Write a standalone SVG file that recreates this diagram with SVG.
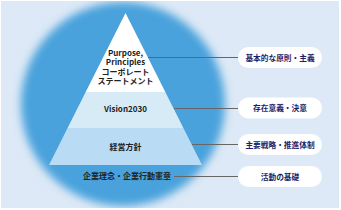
<svg xmlns="http://www.w3.org/2000/svg" width="341" height="210" viewBox="0 0 341 210">
<defs>
<filter id="blur" x="-20%" y="-20%" width="140%" height="140%"><feGaussianBlur stdDeviation="4"/></filter>
<clipPath id="bg"><rect x="1" y="1" width="338" height="207"/></clipPath>
</defs>
<style>
.t{font-family:"Noto Sans CJK JP","Noto Sans",sans-serif;font-weight:bold;font-size:8px;fill:#222;text-anchor:middle}
.p{font-family:"Noto Sans CJK JP","Noto Sans",sans-serif;font-weight:bold;font-size:7.7px;fill:#1b1f6b;text-anchor:middle}
.pill{fill:#fff}
.ln{stroke:#666;stroke-width:1;fill:none}
</style>
<rect x="0" y="0" width="341" height="210" fill="#fff"/>
<rect x="1" y="1" width="338" height="207" fill="#dde9f6"/>
<g clip-path="url(#bg)">
<circle cx="123" cy="104" r="102" fill="#4aa2dc" filter="url(#blur)"/>
</g>
<g id="pyramid">
<g id="level1"><polygon points="125.5,13 165.3,92 85.7,92" fill="#fff"/>
<text class="t" x="125.5" y="56"><tspan x="125.5" y="56">Purpose,</tspan><tspan x="125.5" y="65.3">Principles</tspan><tspan x="125.5" y="74.6">コーポレート</tspan><tspan x="125.5" y="83.9">ステートメント</tspan></text></g>
<g id="level2"><polygon points="85.7,92 165.3,92 183.4,128 67.6,128" fill="#d6ebf5"/>
<text class="t" x="125.5" y="112">Vision2030</text></g>
<g id="level3"><polygon points="67.6,128 183.4,128 202,165 49,165" fill="#b9dcf4"/>
<text class="t" x="125.5" y="150">経営方針</text></g>
<g id="level4"><text class="t" x="127" y="179">企業理念・企業行動憲章</text></g>
</g>
<g id="connectors">
<line class="ln" x1="148" y1="57.5" x2="238" y2="57.5"/>
<line class="ln" x1="174" y1="108.5" x2="238" y2="108.5"/>
<line class="ln" x1="192" y1="144.5" x2="238" y2="144.5"/>
<line class="ln" x1="174" y1="176.5" x2="238" y2="176.5"/>
</g>
<g id="label1"><rect class="pill" x="238" y="47" width="84" height="21" rx="10.5"/><text class="p" x="280" y="60.5">基本的な原則・主義</text></g>
<g id="label2"><rect class="pill" x="238" y="97.5" width="84" height="21" rx="10.5"/><text class="p" x="280" y="111">存在意義・決意</text></g>
<g id="label3"><rect class="pill" x="238" y="134" width="84" height="21" rx="10.5"/><text class="p" x="280" y="147.5">主要戦略・推進体制</text></g>
<g id="label4"><rect class="pill" x="238" y="166" width="84" height="21" rx="10.5"/><text class="p" x="280" y="179.5">活動の基礎</text></g>
</svg>
